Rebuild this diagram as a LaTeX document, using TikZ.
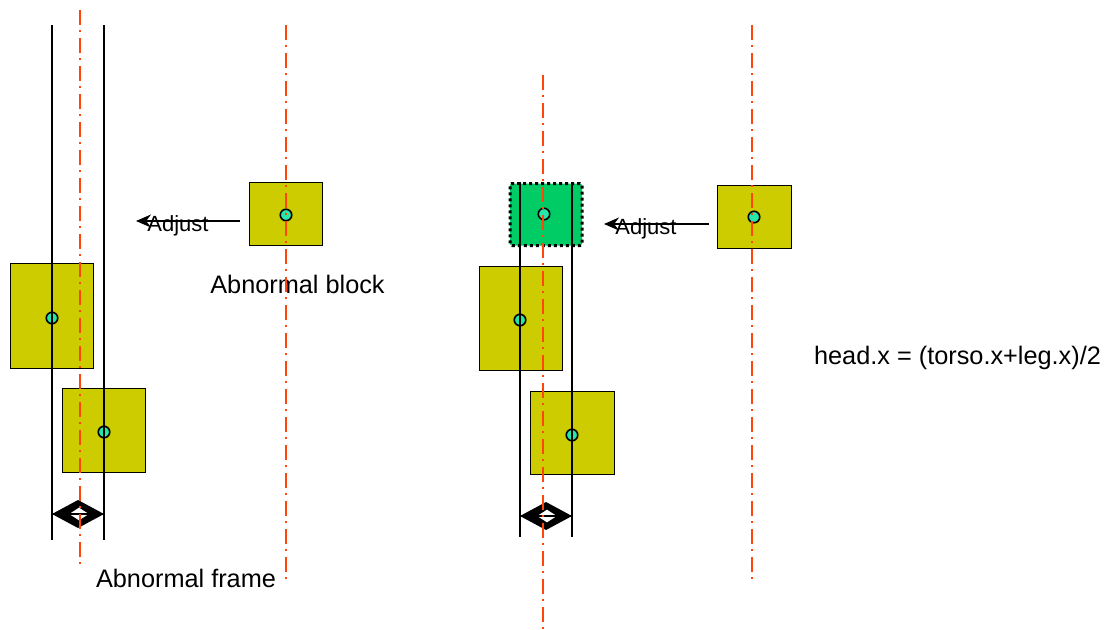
\documentclass[tikz,border=0pt]{standalone}
\usepackage{fontspec}
\setmainfont{Liberation Sans}
\usetikzlibrary{arrows.meta}
\definecolor{olivebox}{RGB}{204,204,0}
\definecolor{greenbox}{RGB}{0,204,102}
\definecolor{dotfill}{RGB}{40,230,170}
\definecolor{axisred}{RGB}{255,69,10}
\tikzset{
  part/.style={draw=black, line width=1pt, fill=olivebox, inner sep=0pt},
  ghost/.style={draw=black, line width=3pt, dash pattern=on 3pt off 3pt, fill=greenbox, inner sep=0pt, rounded corners=2pt},
  center/.style={circle, draw=black, line width=1.6pt, fill=dotfill, minimum size=11.5pt, inner sep=0pt},
  frameline/.style={draw=black, line width=1.5pt},
  axis/.style={draw=axisred, line width=1.8pt, dash pattern=on 15pt off 5pt on 2pt off 6pt},
  adjarrow/.style={draw=black, line width=1.2pt, -{Stealth[length=15pt,width=13pt]}},
  lbl/.style={font=\fontsize{25.3}{29}\selectfont, inner sep=0pt},
  adjlbl/.style={font=\fontsize{22}{25}\selectfont, inner sep=0pt},
}
\begin{document}
\begin{tikzpicture}[x=1pt,y=-1pt]
\useasboundingbox (0,0) rectangle (1108,629);
% ---------- left group ----------
\node[part, minimum width=73pt, minimum height=63pt] (headA) at (285.5,213.5) {};
\node[part, minimum width=83pt, minimum height=105pt] (torsoA) at (51.5,315.5) {};
\node[part, minimum width=83pt, minimum height=84pt] (legA) at (103.5,430) {};
\node[center] (cHeadA) at (286,215) {};
\node[center] (cTorsoA) at (52,318) {};
\node[center] (cLegA) at (104,432) {};
\coordinate (fA1t) at (52,25); \coordinate (fA1b) at (52,540);
\coordinate (fA2t) at (104,25); \coordinate (fA2b) at (104,540);
\draw[frameline] (fA1t) -- (fA1b);
\draw[frameline] (fA2t) -- (fA2b);
% width arrow left
\coordinate (wA1) at (52,514); \coordinate (wA2) at (104,514);
\fill[black, even odd rule] (52,514) -- (78,500) -- (104,514) -- (78,528) -- cycle
  (69,514) -- (79,507.5) -- (89,514) -- (79,520.5) -- cycle;
\draw[black, line width=1.5pt] (wA1) -- (wA2);
% adjust arrow left
\coordinate (adjAs) at (240,221); \coordinate (adjAe) at (136,221);
\draw[adjarrow] (adjAs) -- (adjAe);
\node[adjlbl] (adjA) at (178,226) {Adjust};
\node[lbl] (blockLbl) at (297.5,284) {Abnormal block};
\node[lbl] (frameLbl) at (186,578) {Abnormal frame};
% ---------- right group ----------
\node[ghost, minimum width=72pt, minimum height=62pt] (headG) at (546,214.5) {};
\node[part, minimum width=74pt, minimum height=63pt] (headB) at (754,216.5) {};
\node[part, minimum width=83pt, minimum height=104pt] (torsoB) at (520.5,318) {};
\node[part, minimum width=84pt, minimum height=83pt] (legB) at (572,432.5) {};
\node[center] (cHeadG) at (544,214) {};
\node[center] (cHeadB) at (754,217) {};
\node[center] (cTorsoB) at (520,320) {};
\node[center] (cLegB) at (572,435) {};
\coordinate (fB1t) at (520,182); \coordinate (fB1b) at (520,537);
\coordinate (fB2t) at (572,182); \coordinate (fB2b) at (572,537);
\draw[frameline] (fB1t) -- (fB1b);
\draw[frameline] (fB2t) -- (fB2b);
\coordinate (wB1) at (520,516); \coordinate (wB2) at (572,516);
\fill[black, even odd rule] (520,516) -- (546,502) -- (572,516) -- (546,530) -- cycle
  (537,516) -- (547,509.5) -- (557,516) -- (547,522.5) -- cycle;
\draw[black, line width=1.5pt] (wB1) -- (wB2);
\coordinate (adjBs) at (709,224); \coordinate (adjBe) at (604,224);
\draw[adjarrow] (adjBs) -- (adjBe);
\node[adjlbl] (adjB) at (646,229) {Adjust};
\node[lbl] (formula) at (957.5,358) {head.x = (torso.x+leg.x)/2};
% ---------- axes ----------
\draw[axis] (80,10) -- (80,565);
\draw[axis] (286,25) -- (286,582);
\draw[axis] (543,75) -- (543,630);
\draw[axis] (752,25) -- (752,582);
\end{tikzpicture}
\end{document}
